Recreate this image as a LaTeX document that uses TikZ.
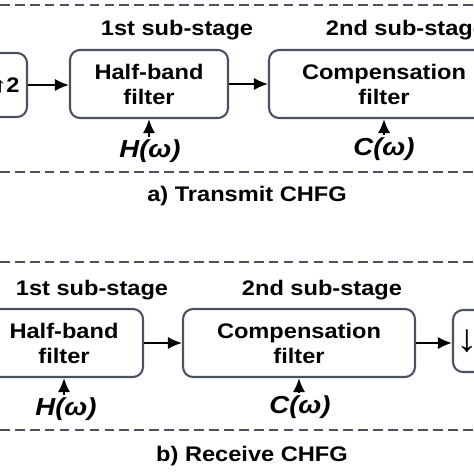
\documentclass[tikz,border=0pt]{standalone}
\usepackage{fontspec}
\setmainfont{Liberation Sans}[FakeStretch=1.12]
\usetikzlibrary{arrows.meta}
\definecolor{boxgray}{HTML}{4A5261}
\tikzset{
  blk/.style={draw=boxgray, line width=1.2pt, rounded corners=0.2cm, align=center,
    inner sep=0pt, font=\fontsize{12}{14.2}\selectfont\bfseries},
  lbl/.style={inner sep=0pt, font=\fontsize{12}{14.2}\selectfont\bfseries},
  wlbl/.style={inner sep=1.5pt, font=\fontsize{14}{16}\selectfont\bfseries\itshape},
  sig/.style={-{Latex[length=8pt,width=7pt]}, line width=1.2pt},
  sep/.style={draw=boxgray, line width=1.6pt, dash pattern=on 5.5pt off 3pt},
}
\begin{document}
\begin{tikzpicture}[x=0.02cm, y=-0.02cm]
    \useasboundingbox (0,0) rectangle (474,474);
    \clip (0,0) rectangle (474,474);
    % separators
    \draw [sep] (0,5) -- (474,5);
    \draw [sep] (0,172) -- (474,172);
    \draw [sep] (0,262) -- (474,262);
    \draw [sep] (0,430) -- (474,430);
    % transmit
    \node [lbl] (st1tx) at (177,30) {1st sub-stage};
    \node [lbl] (st2tx) at (406,30) {2nd sub-stage};
    \node [blk, minimum width=0.8cm, minimum height=1.28cm] (up) at (7,85) {↑2};
    \node [blk, minimum width=3.16cm, minimum height=1.36cm] (hbtx) at (149,84) {Half-band\\filter};
    \node [blk, minimum width=4.6cm, minimum height=1.36cm] (cmtx) at (384,84) {Compensation\\filter};
    \draw [sig] (up.east) -- (up.east -| hbtx.west);
    \draw [sig] (hbtx) -- (cmtx);
    \node [wlbl] (htx) at (150,151) {H(ω)};
    \node [wlbl] (ctx) at (384,149) {C(ω)};
    \draw [sig] (htx.north -| hbtx.south) -- (hbtx.south);
    \draw [sig] (ctx.north -| cmtx.south) -- (cmtx.south);
    \node [lbl] (tta) at (247,196) {a) Transmit CHFG};
    % receive
    \node [lbl] (st1rx) at (92,290) {1st sub-stage};
    \node [lbl] (st2rx) at (322,290) {2nd sub-stage};
    \node [blk, minimum width=3.16cm, minimum height=1.36cm] (hbrx) at (64,343) {Half-band\\filter};
    \node [blk, minimum width=4.64cm, minimum height=1.36cm] (cmrx) at (299,343) {Compensation\\filter};
    \node [blk, minimum width=0.84cm, minimum height=1.24cm] (dn) at (474,341)
        {{\fontsize{22}{22}\selectfont ↓}2};
    \draw [sig] (hbrx) -- (cmrx);
    \draw [sig] (cmrx.east) -- (cmrx.east -| dn.west);
    \node [wlbl] (hrx) at (66,409) {H(ω)};
    \node [wlbl] (crx) at (300,407) {C(ω)};
    \draw [sig] (hrx.north -| hbrx.south) -- (hbrx.south);
    \draw [sig] (crx.north -| cmrx.south) -- (cmrx.south);
    \node [lbl] (ttb) at (252,456) {b) Receive CHFG};
\end{tikzpicture}
\end{document}
